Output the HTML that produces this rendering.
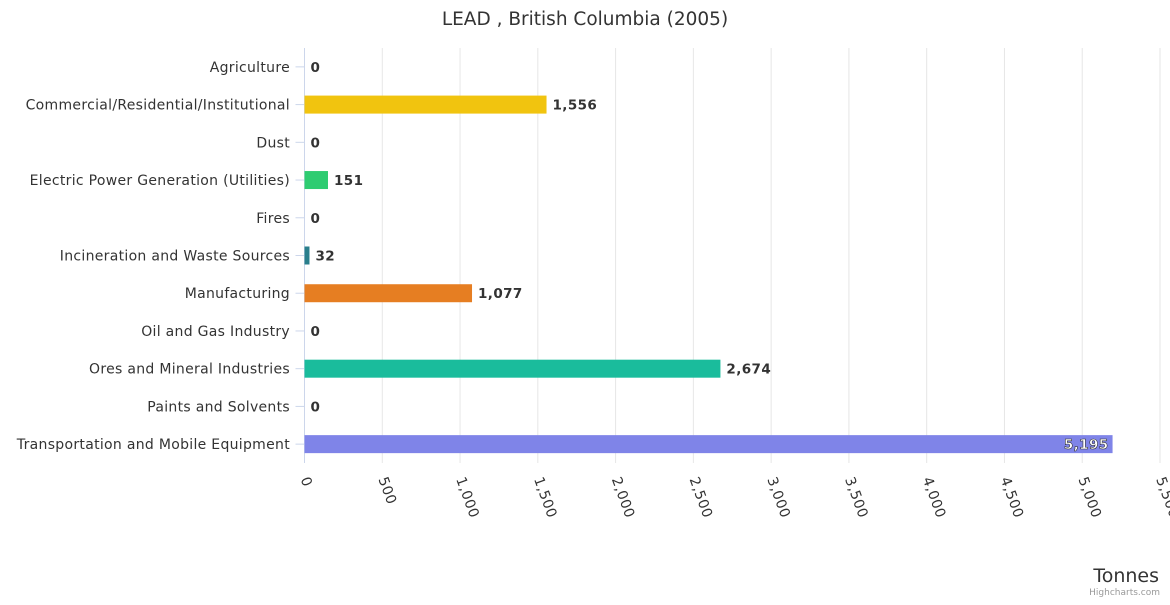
<!DOCTYPE html>
<html><head><meta charset="utf-8"><style>
body{margin:0;background:#fff;font-family:"Liberation Sans","DejaVu Sans",sans-serif}
svg text{font-family:"DejaVu Sans","Liberation Sans",sans-serif}
</style></head><body>
<svg id="chart" width="1170" height="600">
<rect width="1170" height="600" fill="#fff"/>
<text x="585" y="25" text-anchor="middle" font-size="18.5" fill="#333">LEAD , British Columbia (2005)</text>
<g id="grid"></g><g id="bars"></g><g id="labels"></g>
<text x="1159" y="582" text-anchor="end" font-size="19" fill="#333">Tonnes</text>
<text x="1160" y="595" text-anchor="end" font-size="9" fill="#999">Highcharts.com</text>
</svg>
<script>
const categories=["Agriculture","Commercial/Residential/Institutional","Dust","Electric Power Generation (Utilities)","Fires","Incineration and Waste Sources","Manufacturing","Oil and Gas Industry","Ores and Mineral Industries","Paints and Solvents","Transportation and Mobile Equipment"];
const values=[0,1556,0,151,0,32,1077,0,2674,0,5195];
const colors=["#7cb5ec","#f1c40f","#2c3e50","#2ecc71","#e74c3c","#2a7f8c","#e67e22","#95a5a6","#1abc9c","#9b59b6","#7f84e8"];
const ticks=[0,500,1000,1500,2000,2500,3000,3500,4000,4500,5000,5500];
const NS="http://www.w3.org/2000/svg";
const plotX0=304.5,plotX1=1160,plotTop=48,plotBottom=463;
const xs=v=>plotX0+(v/5500)*(plotX1-plotX0);
const band=(plotBottom-plotTop)/categories.length;
const yc=i=>plotTop+band*(i+0.5);
function mk(t,a,p){const e=document.createElementNS(NS,t);for(const k in a)e.setAttribute(k,a[k]);p.appendChild(e);return e;}
const fmt=v=>v.toLocaleString('en-US');
const g=document.getElementById('grid'),b=document.getElementById('bars'),l=document.getElementById('labels');
ticks.forEach(t=>{
 const ln=mk('line',{x1:xs(t),x2:xs(t),y1:plotTop,y2:plotBottom,stroke:t===0?'#ccd6eb':'#e6e6e6','stroke-width':1},g);
 
 
 const x=xs(t)-4,y=479;
 const tx=mk('text',{x:x,y:y,'font-size':14,'letter-spacing':'0.5',fill:'#333',transform:`rotate(70 ${x} ${y})`},l);
 tx.textContent=fmt(t);
 
 
});
categories.forEach((c,i)=>{
 const y=yc(i);
 const tk=mk('line',{x1:plotX0-9,x2:plotX0,y1:y,y2:y,stroke:'#ccd6eb'},g);
 
 
 const lab=mk('text',{x:290,y:y+5,'text-anchor':'end','font-size':14,'letter-spacing':'0.3',fill:'#333'},l);
 lab.textContent=c;
 
 
 const w=xs(values[i])-plotX0;
 const r=mk('rect',{x:plotX0,y:y-9,width:Math.max(w,0),height:18,fill:colors[i]},b);
 
 
 const inside=values[i]>4500;
 const vt=mk('text',{x:inside?xs(values[i])-4:xs(values[i])+6,y:y+5,'text-anchor':inside?'end':'start','font-size':13.5,'font-weight':'bold','letter-spacing':'0.4',fill:inside?'#fff':'#333',stroke:inside?'#333':'none','stroke-width':inside?0.6:0},l);
 vt.textContent=fmt(values[i]);
 
 
});
</script>
</body></html>
